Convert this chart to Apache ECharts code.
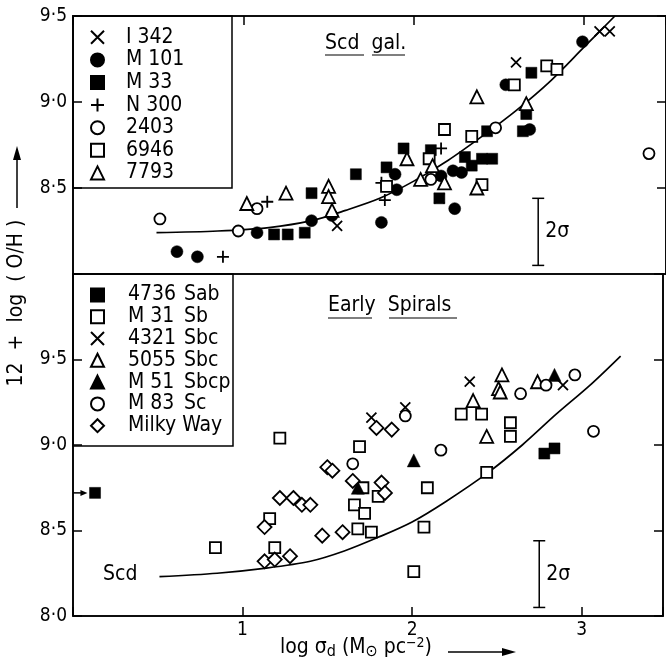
<!DOCTYPE html>
<html>
<head>
<meta charset="utf-8">
<script src="https://cdn.jsdelivr.net/npm/echarts@6/dist/echarts.min.js"></script>
<style>html,body{margin:0;background:#fff}#chart{width:666px;height:666px}</style>
</head>
<body>
<div id="chart"></div>
<script>
const FONT = '"DejaVu Sans Condensed", "Liberation Sans Narrow", "DejaVu Sans", sans-serif';

// ===== 上图：Scd gal. =====
const topNames = ['I 342', 'M 101', 'M 33', 'N 300', '2403', '6946', '7793'];
const I342 = [[1.55, 8.28], [2.15, 8.44], [2.60, 9.23], [3.09, 9.41], [3.15, 9.41]];
const M101 = [[0.61, 8.13], [0.73, 8.10], [1.08, 8.24], [1.40, 8.31], [1.52, 8.34], [1.89, 8.58], [1.90, 8.49],
  [1.81, 8.30], [2.16, 8.57], [2.24, 8.38], [2.23, 8.60], [2.28, 8.59], [2.54, 9.10], [2.68, 8.84], [2.99, 9.35]];
const M33 = [[1.18, 8.23], [1.26, 8.23], [1.36, 8.24], [1.40, 8.47], [1.66, 8.58], [1.84, 8.62], [1.94, 8.73],
  [2.10, 8.72], [2.15, 8.44], [2.30, 8.68], [2.34, 8.63], [2.40, 8.67], [2.46, 8.67], [2.43, 8.83], [2.64, 8.83],
  [2.66, 8.93], [2.69, 9.17]];
const N300 = [[0.88, 8.10], [1.14, 8.42], [1.81, 8.53], [1.83, 8.43], [2.16, 8.73]];
const N2403 = [[0.51, 8.32], [0.97, 8.25], [1.08, 8.38], [2.10, 8.55], [2.48, 8.85], [3.38, 8.70]];
const N6946 = [[1.84, 8.51], [2.09, 8.67], [2.18, 8.84], [2.34, 8.80], [2.40, 8.52], [2.59, 9.10], [2.78, 9.21], [2.84, 9.19]];
const N7793 = [[1.02, 8.41], [1.25, 8.47], [1.50, 8.51], [1.50, 8.45], [1.52, 8.37], [1.96, 8.67], [2.04, 8.55],
  [2.11, 8.63], [2.18, 8.53], [2.37, 8.50], [2.37, 9.03], [2.66, 8.99]];
const scdCurveTop = [[0.49, 8.24], [0.85, 8.25], [1.15, 8.27], [1.4, 8.31], [1.6, 8.37], [1.8, 8.44], [2.0, 8.54],
  [2.2, 8.66], [2.4, 8.80], [2.6, 8.95], [2.8, 9.12], [3.0, 9.32], [3.18, 9.50]];
const sigmaTop = [[2.73, 8.05, 8.44]];

// ===== 下图：Early Spirals =====
const bottomNames = ['4736 Sab', 'M 31 Sb', '4321 Sbc', '5055 Sbc', 'M 51 Sbcp', 'M 83 Sc', 'Milky Way'];
const N4736 = [[0.13, 8.72], [2.78, 8.95], [2.84, 8.98]];
const M31 = [[0.84, 8.40], [1.16, 8.57], [1.19, 8.40], [1.22, 9.04], [1.68, 8.51], [1.76, 8.49], [1.69, 8.99],
  [1.71, 8.75], [1.66, 8.65], [1.72, 8.60], [1.80, 8.70], [2.09, 8.75], [2.07, 8.52], [2.01, 8.26], [2.29, 9.18],
  [2.41, 9.18], [2.58, 9.13], [2.58, 9.05], [2.44, 8.84]];
const N4321 = [[1.76, 9.16], [1.96, 9.22], [2.34, 9.37], [2.89, 9.35]];
const N5055 = [[2.36, 9.26], [2.53, 9.41], [2.51, 9.33], [2.52, 9.31], [2.44, 9.05], [2.74, 9.37]];
const M51 = [[1.68, 8.75], [2.01, 8.91], [2.84, 9.41]];
const M83 = [[1.65, 8.89], [1.96, 9.17], [2.17, 8.97], [2.64, 9.30], [2.79, 9.35], [2.96, 9.41], [3.07, 9.08]];
const milkyWay = [[1.13, 8.32], [1.19, 8.33], [1.28, 8.35], [1.13, 8.52], [1.22, 8.69], [1.30, 8.69], [1.35, 8.65],
  [1.40, 8.65], [1.47, 8.47], [1.50, 8.87], [1.53, 8.85], [1.59, 8.49], [1.65, 8.79], [1.82, 8.78], [1.84, 8.72],
  [1.79, 9.10], [1.88, 9.09]];
const scdCurveBottom = [[0.51, 8.23], [0.85, 8.25], [1.14, 8.28], [1.4, 8.32], [1.6, 8.38], [1.8, 8.46], [2.0, 8.55],
  [2.2, 8.67], [2.45, 8.84], [2.65, 9.0], [2.85, 9.18], [3.05, 9.35], [3.23, 9.52]];
const sigmaBottom = [[2.75, 8.05, 8.44]];
// 4736 左侧箭头：[起点x, 终点x, y]
const arrow4736 = [[0, 0.085, 8.72]];

const CROSS = 'path://M0,0L10,10M10,0L0,10';
const PLUS = 'path://M5,0L5,10M0,5L10,5';

const fmt = v => v.toFixed(1).replace('.', '·');

function pts(name, data, symbol, size, filled, panel) {
  return {
    name, type: 'scatter', data, symbol, symbolSize: size,
    xAxisIndex: panel, yAxisIndex: panel * 2,
    itemStyle: {
      color: filled ? '#000' : '#fff',
      borderColor: '#000',
      borderWidth: filled ? 0.5 : 1.8,
      opacity: 1,
    },
    emphasis: { disabled: true },
  };
}
function lineStroke(name, data, panel) {
  return {
    name, type: 'line', data, smooth: 0.3, symbol: 'none',
    xAxisIndex: panel, yAxisIndex: panel * 2,
    lineStyle: { color: '#000', width: 1.7 },
    z: 1, silent: true,
  };
}
function sigmaBar(data, panel) {
  return {
    type: 'custom', data, xAxisIndex: panel, yAxisIndex: panel * 2, silent: true,
    renderItem: (params, api) => {
      const p1 = api.coord([api.value(0), api.value(1)]);
      const p2 = api.coord([api.value(0), api.value(2)]);
      const st = { stroke: '#000', lineWidth: 1.5 };
      return {
        type: 'group', children: [
          { type: 'line', shape: { x1: p1[0], y1: p1[1], x2: p2[0], y2: p2[1] }, style: st },
          { type: 'line', shape: { x1: p1[0] - 6, y1: p1[1], x2: p1[0] + 6, y2: p1[1] }, style: st },
          { type: 'line', shape: { x1: p2[0] - 6, y1: p2[1], x2: p2[0] + 6, y2: p2[1] }, style: st },
          { type: 'text', style: { text: '2σ', x: p1[0] + 7, y: (p1[1] + p2[1]) / 2, verticalAlign: 'middle',
            fill: '#000', font: '21px ' + FONT } },
        ],
      };
    },
  };
}
function arrowSeries(data, panel) {
  return {
    type: 'custom', data, xAxisIndex: panel, yAxisIndex: panel * 2, silent: true, clip: false,
    renderItem: (params, api) => {
      const a = api.coord([api.value(0), api.value(2)]);
      const b = api.coord([api.value(1), api.value(2)]);
      return {
        type: 'group', children: [
          { type: 'line', shape: { x1: a[0], y1: a[1], x2: b[0] - 5, y2: b[1] }, style: { stroke: '#000', lineWidth: 1.5 } },
          { type: 'polygon', shape: { points: [[b[0], b[1]], [b[0] - 7, b[1] - 3], [b[0] - 7, b[1] + 3]] }, style: { fill: '#000' } },
        ],
      };
    },
  };
}

const axisLine = { lineStyle: { color: '#000', width: 1.6 } };
const tick = { inside: true, length: 9, lineStyle: { color: '#000', width: 1.5 } };
const label = { color: '#000', fontSize: 19, fontFamily: FONT };

const chart = echarts.init(document.getElementById('chart'));
const option = {
  backgroundColor: '#fff',
  animation: false,
  grid: [
    { left: 73, right: 0, top: 16, height: 258, show: true, borderColor: '#000', borderWidth: 1.6 },
    { left: 73, right: 0, top: 274, height: 342, show: true, borderColor: '#000', borderWidth: 1.6 },
  ],
  xAxis: [
    { gridIndex: 0, type: 'value', min: 0, max: 3.48, interval: 1, position: 'top',
      axisLine, axisTick: tick, axisLabel: { show: false }, splitLine: { show: false } },
    { gridIndex: 1, type: 'value', min: 0, max: 3.48, interval: 1, position: 'bottom',
      axisLine, axisTick: tick, splitLine: { show: false },
      axisLabel: { ...label, margin: 5, formatter: v => (Number.isInteger(v) && v > 0 ? String(v) : '') } },
  ],
  yAxis: [
    { gridIndex: 0, type: 'value', min: 8, max: 9.5, interval: 0.5, position: 'left',
      axisLine, axisTick: tick, splitLine: { show: false },
      axisLabel: { ...label, margin: 6, formatter: v => (v === 8 ? '' : fmt(v)) } },
    { gridIndex: 0, type: 'value', min: 8, max: 9.5, interval: 0.5, position: 'right',
      axisLine, axisTick: tick, splitLine: { show: false }, axisLabel: { show: false } },
    { gridIndex: 1, type: 'value', min: 8, max: 10, interval: 0.5, position: 'left',
      axisLine, axisTick: tick, splitLine: { show: false },
      axisLabel: { ...label, margin: 6, formatter: v => (v === 10 ? '' : fmt(v)) } },
    { gridIndex: 1, type: 'value', min: 8, max: 10, interval: 0.5, position: 'right',
      axisLine, axisTick: tick, splitLine: { show: false }, axisLabel: { show: false } },
  ],
  legend: [
    {
      data: topNames, orient: 'vertical', left: 90, top: 26, padding: 0, itemGap: 0,
      itemWidth: 13, itemHeight: 13, selectedMode: false,
      textStyle: { color: '#000', fontSize: 21, fontFamily: FONT, lineHeight: 22.6, padding: [0, 0, 0, 17] },
    },
    {
      data: bottomNames, orient: 'vertical', left: 90, top: 284, padding: 0, itemGap: 0,
      itemWidth: 13, itemHeight: 13, selectedMode: false,
      formatter: n => {
        if (n === 'Milky Way') return '{a|Milky Way}';
        const i = n.lastIndexOf(' ');
        return '{a|' + n.slice(0, i) + '}{b|' + n.slice(i + 1) + '}';
      },
      textStyle: {
        color: '#000', fontSize: 21, fontFamily: FONT, lineHeight: 21.8, padding: [0, 0, 0, 19],
        rich: {
          a: { width: 56, fontSize: 21, fontFamily: FONT, lineHeight: 21.8, color: '#000' },
          b: { fontSize: 21, fontFamily: FONT, lineHeight: 21.8, color: '#000' },
        },
      },
    },
  ],
  series: [
    lineStroke('curveTop', scdCurveTop, 0),
    sigmaBar(sigmaTop, 0),
    pts('I 342', I342, CROSS, 10, false, 0),
    pts('M 101', M101, 'circle', 12, true, 0),
    pts('M 33', M33, 'rect', 11, true, 0),
    pts('N 300', N300, PLUS, 12, false, 0),
    pts('2403', N2403, 'circle', 11, false, 0),
    pts('6946', N6946, 'rect', 11, false, 0),
    pts('7793', N7793, 'triangle', 13, false, 0),

    lineStroke('curveBottom', scdCurveBottom, 1),
    sigmaBar(sigmaBottom, 1),
    arrowSeries(arrow4736, 1),
    pts('4736 Sab', N4736, 'rect', 11, true, 1),
    pts('M 31 Sb', M31, 'rect', 11, false, 1),
    pts('4321 Sbc', N4321, CROSS, 10, false, 1),
    pts('5055 Sbc', N5055, 'triangle', 13, false, 1),
    pts('M 51 Sbcp', M51, 'triangle', 13, true, 1),
    pts('M 83 Sc', M83, 'circle', 11, false, 1),
    pts('Milky Way', milkyWay, 'diamond', 14, false, 1),
  ],
  graphic: [
    { type: 'rect', shape: { x: 73, y: 16, width: 159, height: 172 }, style: { fill: 'none', stroke: '#000', lineWidth: 1.5 } },
    { type: 'rect', shape: { x: 73, y: 274, width: 160, height: 172 }, style: { fill: 'none', stroke: '#000', lineWidth: 1.5 } },
    // 标题
    { type: 'text', x: 325, y: 44, style: { text: 'Scd  gal.', font: '21px ' + FONT, fill: '#000', verticalAlign: 'middle' } },
    { type: 'line', shape: { x1: 325, y1: 55, x2: 364, y2: 55 }, style: { stroke: '#000', lineWidth: 1.2 } },
    { type: 'line', shape: { x1: 372, y1: 55, x2: 405, y2: 55 }, style: { stroke: '#000', lineWidth: 1.2 } },
    { type: 'text', x: 328, y: 306, style: { text: 'Early  Spirals', font: '21px ' + FONT, fill: '#000', verticalAlign: 'middle' } },
    { type: 'line', shape: { x1: 328, y1: 318, x2: 372, y2: 318 }, style: { stroke: '#000', lineWidth: 1.2 } },
    { type: 'line', shape: { x1: 389, y1: 318, x2: 457, y2: 318 }, style: { stroke: '#000', lineWidth: 1.2 } },
    { type: 'text', x: 103, y: 575, style: { text: 'Scd', font: '21px ' + FONT, fill: '#000', verticalAlign: 'middle' } },
    // 坐标轴名称
    { type: 'text', x: 17, y: 303, rotation: Math.PI / 2,
      style: { text: '12  +  log  ( O/H )', font: '21px ' + FONT, fill: '#000', align: 'center', verticalAlign: 'middle' } },
    { type: 'line', shape: { x1: 17, y1: 208, x2: 17, y2: 156 }, style: { stroke: '#000', lineWidth: 1.5 } },
    { type: 'polygon', shape: { points: [[17, 146], [13, 160], [21, 160]] }, style: { fill: '#000' } },
    { type: 'text', x: 280, y: 648,
      style: {
        text: 'log σ{s|d} (M{s|⊙} pc{p|−2})', font: '21px ' + FONT, fill: '#000', verticalAlign: 'middle',
        rich: { s: { fontSize: 16, fontFamily: FONT, verticalAlign: 'bottom', padding: [8, 0, 0, 0] },
                p: { fontSize: 14, fontFamily: FONT, padding: [0, 0, 10, 0] } },
      } },
    { type: 'line', shape: { x1: 448, y1: 652, x2: 504, y2: 652 }, style: { stroke: '#000', lineWidth: 1.5 } },
    { type: 'polygon', shape: { points: [[516, 652], [502, 648], [502, 656]] }, style: { fill: '#000' } },
  ],
};
chart.setOption(option);
</script>
</body>
</html>
